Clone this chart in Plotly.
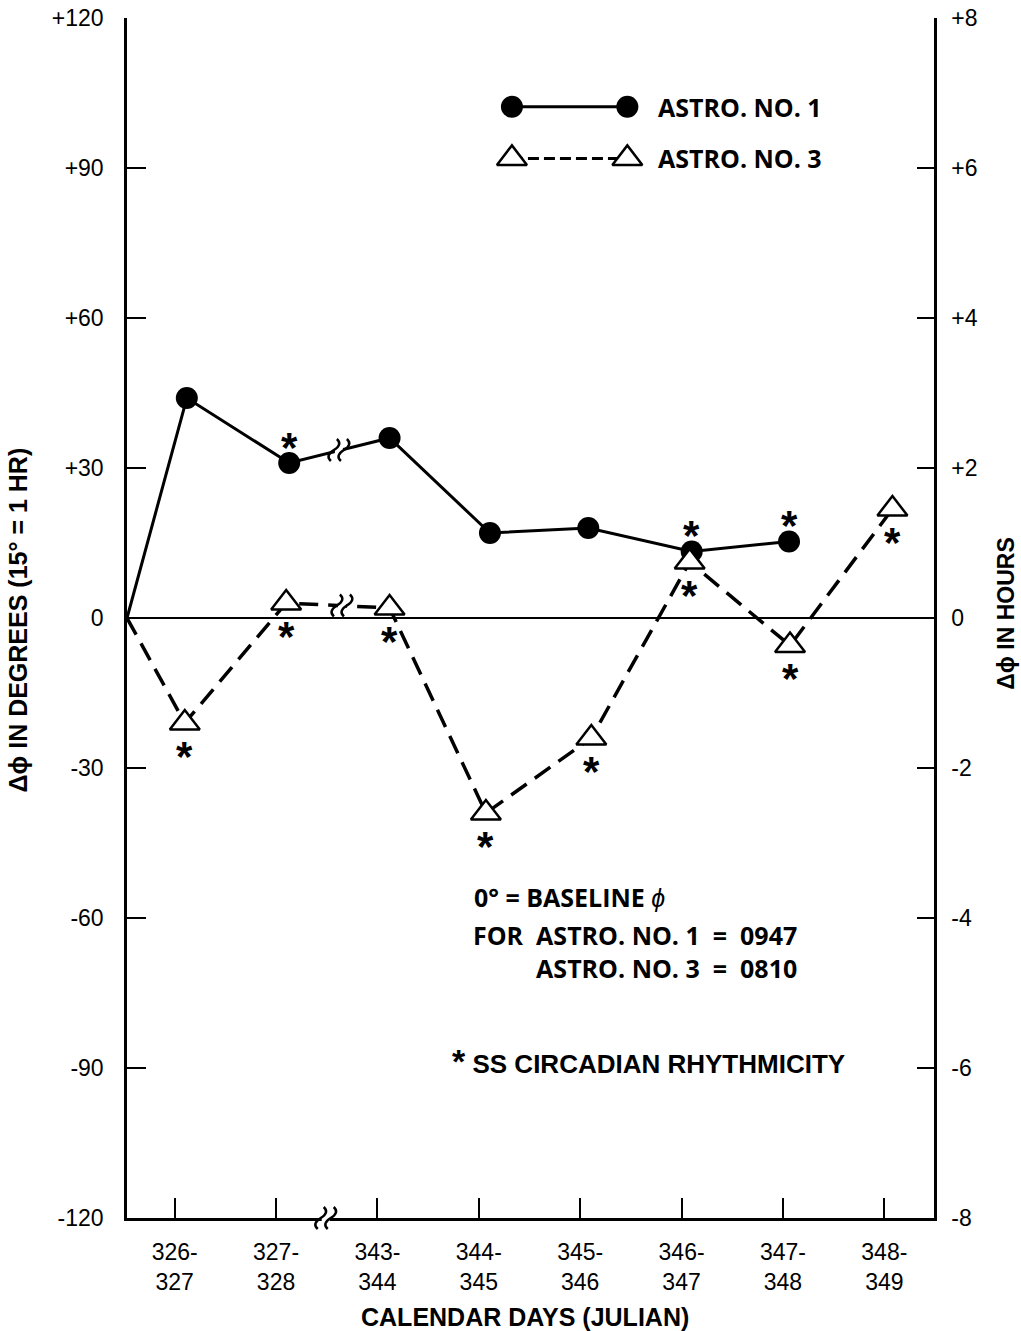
import plotly.graph_objects as go

# ---------------- data ----------------
day_labels = ["326-<br>327", "327-<br>328", "343-<br>344", "344-<br>345",
              "345-<br>346", "346-<br>347", "347-<br>348", "348-<br>349"]
day_index = [0, 1, 2, 3, 4, 5, 6, 7]

baseline_x = -0.47
baseline_deg = 0

astro1_x = [0.12, 1.13, 2.12, 3.11, 4.08, 5.10, 6.06]
astro1_deg = [44, 31, 36, 17, 18, 13.3, 15.3]
astro1_ss = [False, True, False, False, False, True, True]

astro3_x = [0.10, 1.10, 2.12, 3.07, 4.11, 5.08, 6.07, 7.08]
astro3_deg = [-21, 3, 2, -39, -24, 11.2, -5.5, 21.8]
astro3_ss = [True, True, True, True, True, True, True, True]

deg_ticks = [120, 90, 60, 30, 0, -30, -60, -90, -120]
deg_labels = ["+120", "+90", "+60", "+30", "0", "-30", "-60", "-90", "-120"]
hr_ticks = [8, 6, 4, 2, 0, -2, -4, -6, -8]
hr_labels = ["+8", "+6", "+4", "+2", "0", "-2", "-4", "-6", "-8"]

# ---------------- styling ----------------
TICK_FONT = dict(family="Liberation Sans, Arial, sans-serif", size=23, color="black")
TITLE_FONT = dict(family="Liberation Sans, Arial, sans-serif", size=25, color="black")
NOTE_FONT = dict(family="Open Sans, sans-serif", size=25, color="black")
STAR_FONT = dict(family="Liberation Sans, Arial, sans-serif", size=42, color="black")
DASH = "19px,10px"

fig = go.Figure()

# Astro 1 line + markers
fig.add_trace(go.Scatter(
    x=[baseline_x] + astro1_x, y=[baseline_deg] + astro1_deg,
    mode="lines", line=dict(color="black", width=3), hoverinfo="skip", showlegend=False))
fig.add_trace(go.Scatter(
    x=astro1_x, y=astro1_deg, mode="markers",
    marker=dict(symbol="circle", size=22, color="black"), name="ASTRO. NO. 1", showlegend=False))

# Astro 3 line + markers
fig.add_trace(go.Scatter(
    x=[baseline_x] + astro3_x, y=[baseline_deg] + astro3_deg,
    mode="lines", line=dict(color="black", width=3.5, dash=DASH), hoverinfo="skip", showlegend=False))
fig.add_trace(go.Scatter(
    x=astro3_x, y=astro3_deg, mode="markers",
    marker=dict(symbol="triangle-up", size=26, color="white", line=dict(color="black", width=2.5)),
    name="ASTRO. NO. 3", showlegend=False))

# significance asterisks
ann = []
for x, y, s in zip(astro1_x, astro1_deg, astro1_ss):
    if s:
        ann.append(dict(x=x, y=y, xref="x", yref="y", text="<b>*</b>", showarrow=False,
                        xanchor="center", yanchor="middle", yshift=16, font=STAR_FONT))
for x, y, s in zip(astro3_x, astro3_deg, astro3_ss):
    if s:
        ann.append(dict(x=x, y=y, xref="x", yref="y", text="<b>*</b>", showarrow=False,
                        xanchor="center", yanchor="middle", yshift=-33, font=STAR_FONT))

# legend sample (drawn on an invisible overlay axis in plot-fraction units)
leg_x = [0.477, 0.62]
fig.add_trace(go.Scatter(x=leg_x, y=[0.926, 0.926], xaxis="x2", yaxis="y3", mode="lines+markers",
                         line=dict(color="black", width=3),
                         marker=dict(symbol="circle", size=22, color="black"),
                         hoverinfo="skip", showlegend=False))
fig.add_trace(go.Scatter(x=leg_x, y=[0.883, 0.883], xaxis="x2", yaxis="y3", mode="lines+markers",
                         line=dict(color="black", width=3, dash="11px,5px"),
                         marker=dict(symbol="triangle-up", size=26, color="white",
                                     line=dict(color="black", width=2.5)),
                         hoverinfo="skip", showlegend=False))
ann.append(dict(x=0.655, y=0.926, xref="x2", yref="y3", xanchor="left", yanchor="middle",
                text="<b>ASTRO. NO. 1</b>", showarrow=False, font=NOTE_FONT))
ann.append(dict(x=0.655, y=0.883, xref="x2", yref="y3", xanchor="left", yanchor="middle",
                text="<b>ASTRO. NO. 3</b>", showarrow=False, font=NOTE_FONT))

# notes
ann.append(dict(x=0.428, y=0.2675, xref="paper", yref="paper", xanchor="left", yanchor="middle",
                text="<b>0° = BASELINE </b><i>ϕ</i>", showarrow=False, font=NOTE_FONT))
ann.append(dict(x=0.833, y=0.222, xref="paper", yref="paper", xanchor="right", yanchor="middle",
                align="right",
                text="<b>FOR  ASTRO. NO. 1  =  0947<br>ASTRO. NO. 3  =  0810</b>",
                showarrow=False, font=NOTE_FONT))
ann.append(dict(x=0.4, y=0.131, xref="paper", yref="paper", xanchor="left", yanchor="middle",
                text="<b><span style='font-size:34px'>*</span> SS CIRCADIAN RHYTHMICITY</b>",
                showarrow=False,
                font=dict(family="Liberation Sans, Arial, sans-serif", size=26, color="black")))

# axis titles
ann.append(dict(x=-0.135, y=0.498, xref="paper", yref="paper", textangle=-90,
                xanchor="center", yanchor="middle",
                text="<b>Δϕ IN DEGREES (15° = 1 HR)</b>", showarrow=False, font=TITLE_FONT))
ann.append(dict(x=1.09, y=0.504, xref="paper", yref="paper", textangle=-90,
                xanchor="center", yanchor="middle",
                text="<b>Δϕ IN HOURS</b>", showarrow=False,
                font=dict(family="Liberation Sans, Arial, sans-serif", size=23, color="black")))
ann.append(dict(x=0.493, y=-0.0825, xref="paper", yref="paper",
                xanchor="center", yanchor="middle",
                text="<b>CALENDAR DAYS (JULIAN)</b>", showarrow=False, font=TITLE_FONT))

# axis-break marks (wavy pairs), positioned in data coords, drawn in pixels
def break_mark(xa, ya, yref="y", tilt=3, h=11):
    out = [dict(type="rect", xref="x", yref=yref, xsizemode="pixel", ysizemode="pixel",
                xanchor=xa, yanchor=ya, x0=-4, x1=4, y0=-5, y1=5,
                fillcolor="white", line=dict(width=0), layer="above")]
    for dx in (-5, 5):
        path = (f"M {dx + tilt},{h} Q {dx + tilt + 6},{h / 2} {dx},0 "
                f"Q {dx - tilt - 6},{-h / 2} {dx - tilt},{-h}")
        out.append(dict(type="path", xref="x", yref=yref, xsizemode="pixel", ysizemode="pixel",
                        xanchor=xa, yanchor=ya, path=path,
                        line=dict(color="black", width=2.5), layer="above"))
    return out

shapes = []
shapes += break_mark(1.62, 33.6)
shapes += break_mark(1.65, 2.5)
shapes += break_mark(1.49, 0, yref="paper")

fig.update_layout(
    width=1021, height=1331,
    margin=dict(l=127, r=87, t=18, b=113),
    paper_bgcolor="white", plot_bgcolor="white",
    showlegend=False,
    annotations=ann,
    shapes=shapes,
    xaxis=dict(range=[baseline_x, 7.49], tickvals=day_index, ticktext=day_labels,
               showline=True, linecolor="black", linewidth=2.5, ticks="inside", ticklen=20,
               tickwidth=2, tickcolor="black", showgrid=False, zeroline=False,
               tickfont=TICK_FONT, ticklabelstandoff=12, automargin=False),
    yaxis=dict(range=[-120, 120], tickvals=deg_ticks, ticktext=deg_labels,
               showline=True, linecolor="black", linewidth=2.5, ticks="inside", ticklen=19,
               tickwidth=2, tickcolor="black", showgrid=False,
               zeroline=True, zerolinecolor="black", zerolinewidth=2,
               tickfont=TICK_FONT, ticklabelstandoff=16, automargin=False),
    yaxis2=dict(range=[-8, 8], tickvals=hr_ticks, ticktext=hr_labels, overlaying="y", side="right",
                showline=True, linecolor="black", linewidth=2.5, ticks="inside", ticklen=17,
                tickwidth=2, tickcolor="black", showgrid=False, zeroline=False,
                tickfont=TICK_FONT, ticklabelstandoff=10, automargin=False),
    xaxis2=dict(range=[0, 1], overlaying="x", visible=False, automargin=False),
    yaxis3=dict(range=[0, 1], overlaying="y", visible=False, automargin=False),
)
# dummy trace so yaxis2 is drawn
fig.add_trace(go.Scatter(x=[None], y=[None], yaxis="y2", showlegend=False, hoverinfo="skip"))

fig.write_html("out.html")
